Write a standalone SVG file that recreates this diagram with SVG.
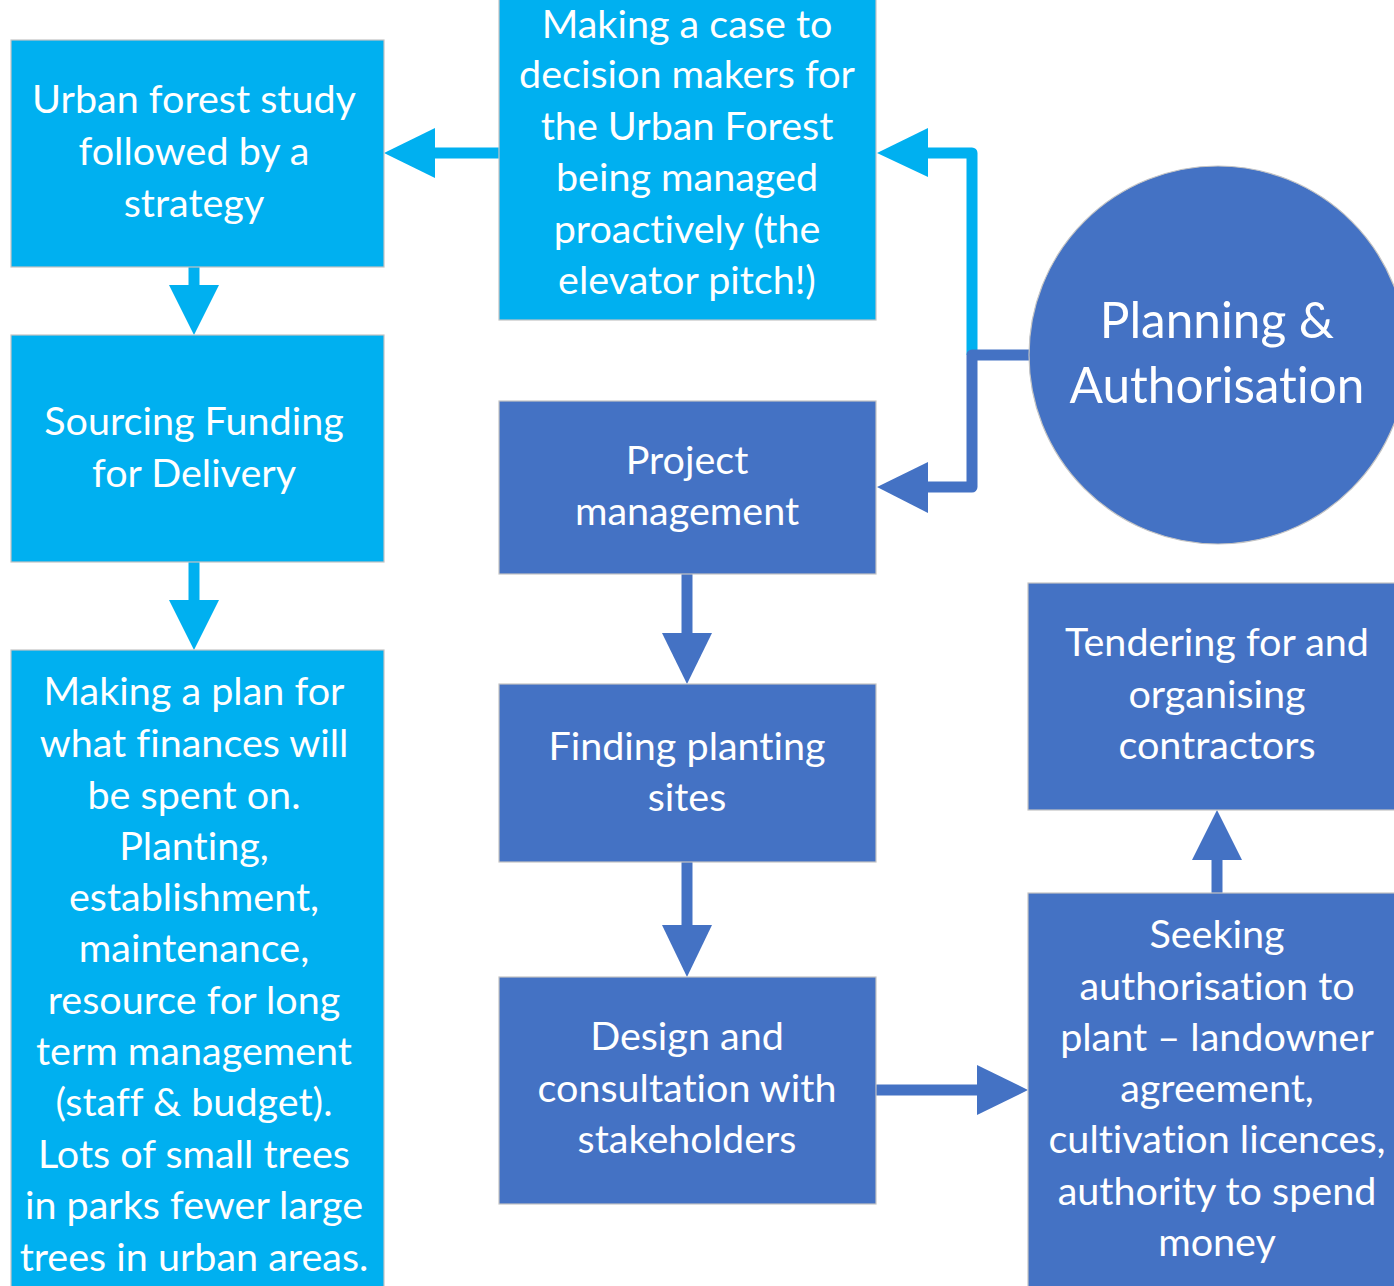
<svg xmlns="http://www.w3.org/2000/svg" width="1394" height="1286" viewBox="0 0 1394 1286">
<defs>
<style>
.cy{fill:#00B0F0;stroke:#c4c4c4;stroke-width:1.2}
.bl{fill:#4472C4;stroke:#c4c4c4;stroke-width:1.2}
.t{font-family:Lato,"Open Sans","Liberation Sans",sans-serif;font-size:39.5px;fill:#ffffff;text-anchor:middle;font-variant-ligatures:none}
.tb{font-family:Lato,"Open Sans","Liberation Sans",sans-serif;font-size:49.5px;fill:#ffffff;text-anchor:middle;font-variant-ligatures:none}
.lc{stroke:#00B0F0;stroke-width:11;fill:none;stroke-linejoin:round}
.lb{stroke:#4472C4;stroke-width:11;fill:none;stroke-linejoin:round}
.hc{fill:#00B0F0}
.hb{fill:#4472C4}
</style>
</defs>
<rect width="1394" height="1286" fill="#ffffff"/>
<g id="connectors">
<line class="lc" x1="499" y1="153" x2="430" y2="153"/>
<polygon class="hc" points="384,153 435,128 435,178"/>
<line class="lc" x1="194" y1="267" x2="194" y2="290"/>
<polygon class="hc" points="194,335 169,285 219,285"/>
<line class="lc" x1="194" y1="562" x2="194" y2="605"/>
<polygon class="hc" points="194,650 169,600 219,600"/>
<polyline class="lc" points="972,355 972,153 922,153"/>
<polygon class="hc" points="877,153 928,128 928,177"/>
<polyline class="lb" points="1032,355 972,355 972,487 922,487"/>
<polygon class="hb" points="877,487 928,462 928,513"/>
<line class="lb" x1="687" y1="574" x2="687" y2="638"/>
<polygon class="hb" points="687,684 662,633 712,633"/>
<line class="lb" x1="687" y1="862" x2="687" y2="930"/>
<polygon class="hb" points="687,977 662,925 712,925"/>
<line class="lb" x1="876" y1="1090" x2="982" y2="1090"/>
<polygon class="hb" points="1028,1090 977,1065 977,1115"/>
<line class="lb" x1="1217" y1="893" x2="1217" y2="855"/>
<polygon class="hb" points="1217,810 1192,860 1242,860"/>
</g>
<g id="urban-forest-study">
<rect class="cy" x="11" y="40" width="373" height="227"/>
<text class="t"><tspan x="194" y="113">Urban forest study</tspan><tspan x="194" y="165">followed by a</tspan><tspan x="194" y="217">strategy</tspan></text>
</g>
<g id="sourcing-funding">
<rect class="cy" x="11" y="335" width="373" height="227"/>
<text class="t"><tspan x="194" y="435">Sourcing Funding</tspan><tspan x="194" y="487">for Delivery</tspan></text>
</g>
<g id="making-plan">
<rect class="cy" x="11" y="650" width="373" height="645"/>
<text class="t"><tspan x="194" y="705">Making a plan for</tspan><tspan x="194" y="757">what finances will</tspan><tspan x="194" y="809">be spent on.</tspan><tspan x="194" y="860">Planting,</tspan><tspan x="194" y="911">establishment,</tspan><tspan x="194" y="962">maintenance,</tspan><tspan x="194" y="1014">resource for long</tspan><tspan x="194" y="1065">term management</tspan><tspan x="194" y="1116">(staff &amp; budget).</tspan><tspan x="194" y="1168">Lots of small trees</tspan><tspan x="194" y="1219">in parks fewer large</tspan><tspan x="194" y="1271">trees in urban areas.</tspan></text>
</g>
<g id="making-case">
<rect class="cy" x="499" y="-5" width="377" height="325"/>
<text class="t"><tspan x="687" y="38">Making a case to</tspan><tspan x="687" y="88">decision makers for</tspan><tspan x="687" y="140">the Urban Forest</tspan><tspan x="687" y="191">being managed</tspan><tspan x="687" y="243">proactively (the</tspan><tspan x="687" y="294">elevator pitch!)</tspan></text>
</g>
<g id="project-management">
<rect class="bl" x="499" y="401" width="377" height="173"/>
<text class="t"><tspan x="687" y="474">Project</tspan><tspan x="687" y="525">management</tspan></text>
</g>
<g id="finding-sites">
<rect class="bl" x="499" y="684" width="377" height="178"/>
<text class="t"><tspan x="687" y="760">Finding planting</tspan><tspan x="687" y="811">sites</tspan></text>
</g>
<g id="design-consultation">
<rect class="bl" x="499" y="977" width="377" height="227"/>
<text class="t"><tspan x="687" y="1050">Design and</tspan><tspan x="687" y="1102">consultation with</tspan><tspan x="687" y="1153">stakeholders</tspan></text>
</g>
<g id="planning-authorisation">
<circle class="bl" cx="1218" cy="355" r="189"/>
<text class="tb"><tspan x="1217" y="338">Planning &amp;</tspan><tspan x="1217" y="403">Authorisation</tspan></text>
</g>
<g id="tendering">
<rect class="bl" x="1028" y="583" width="380" height="227"/>
<text class="t"><tspan x="1217" y="656">Tendering for and</tspan><tspan x="1217" y="708">organising</tspan><tspan x="1217" y="759">contractors</tspan></text>
</g>
<g id="seeking-authorisation">
<rect class="bl" x="1028" y="893" width="380" height="400"/>
<text class="t"><tspan x="1217" y="948">Seeking</tspan><tspan x="1217" y="1000">authorisation to</tspan><tspan x="1217" y="1051">plant – landowner</tspan><tspan x="1217" y="1102">agreement,</tspan><tspan x="1217" y="1153">cultivation licences,</tspan><tspan x="1217" y="1205">authority to spend</tspan><tspan x="1217" y="1256">money</tspan></text>
</g>
</svg>
